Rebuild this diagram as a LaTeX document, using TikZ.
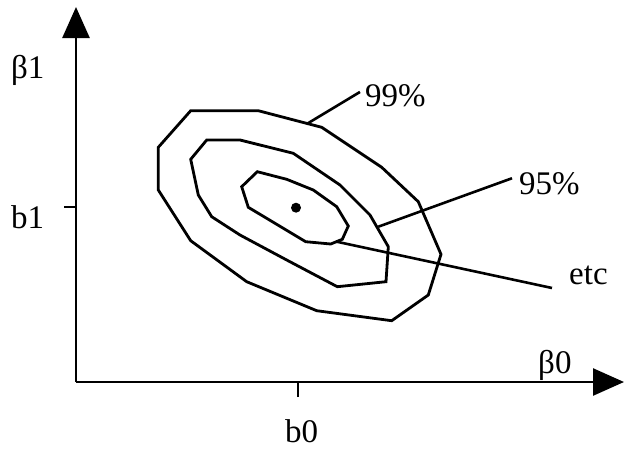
\documentclass[tikz,border=0pt]{standalone}
\usepackage{fontspec}
\setmainfont{Liberation Serif}
\usepackage{tikz}
\usetikzlibrary{positioning, arrows.meta}

\begin{document}
\begin{tikzpicture}[
    x=1pt, y=-1pt,
    axis/.style={line width=2.6pt, -{Triangle[length=31pt, width=27pt]}},
    contour/.style={line width=2.8pt, line join=miter},
    leader/.style={line width=2.6pt},
    lbl/.style={inner sep=0pt, anchor=base west, font=\fontsize{33}{33}\selectfont}
]
    \useasboundingbox (0,0) rectangle (624,448);

    % Axes
    \coordinate (O) at (76,382);
    \coordinate (ytop) at (76,7);
    \coordinate (xend) at (624,382);
    \draw[axis] (O) -- (ytop);
    \draw[axis] (O) -- (xend);

    % Ticks at the estimates
    \coordinate (b1tick) at (64,207);
    \coordinate (b0tick) at (298,397);
    \draw[leader] (b1tick) -- (b1tick -| O);
    \draw[leader] (b0tick) -- (b0tick |- O);

    % Axis labels
    \node[lbl] (beta1) at (11,78) {β1};
    \node[lbl] (b1) at (11,228) {b1};
    \node[lbl] (beta0) at (538,373) {β0};
    \node[lbl] (b0) at (285,442) {b0};

    % Confidence regions
    \draw[contour] (190.7,110.7) -- (258.3,110.7) -- (321.7,127.3) -- (381.7,167.3)
        -- (418.3,201.7) -- (441,254.3) -- (428.3,295) -- (391.7,320.7) -- (316.7,310.7)
        -- (246.7,281.7) -- (190.7,240.7) -- (158.3,190) -- (158.3,147.3) -- cycle;
    \draw[contour] (206.7,140) -- (240,140) -- (293.3,153.3) -- (340,185) -- (370,215)
        -- (388.3,246.7) -- (386,281.7) -- (337.3,286.7) -- (286.7,260) -- (240,235)
        -- (211.7,216.7) -- (198.3,195) -- (190.7,159.3) -- cycle;
    \draw[contour] (257.3,171.7) -- (286.7,179.3) -- (313.3,190) -- (336.7,206.7)
        -- (348.3,226) -- (342.3,239.3) -- (330.7,244) -- (305.7,241.7) -- (248.3,207.3)
        -- (241.7,186.7) -- cycle;

    % Point estimate
    \node[circle, fill, inner sep=0pt, minimum size=10pt] (est) at (296,207.7) {};

    % Region labels with leaders
    \node[lbl] (l99) at (365,106.5) {99\%};
    \node[lbl] (l95) at (519,194) {95\%};
    \node[lbl] (letc) at (569,284) {etc};

    \coordinate (p99) at (306.7,124);
    \coordinate (p95) at (378.3,226.7);
    \coordinate (petc) at (336.7,241.7);
    \draw[leader] (p99) -- ([xshift=-5pt, yshift=3.8pt]l99.west);
    \draw[leader] (p95) -- ([xshift=-7pt, yshift=5pt]l95.west);
    \draw[leader] (petc) -- ([xshift=-17pt, yshift=-4pt]letc.base west);

\end{tikzpicture}
\end{document}
